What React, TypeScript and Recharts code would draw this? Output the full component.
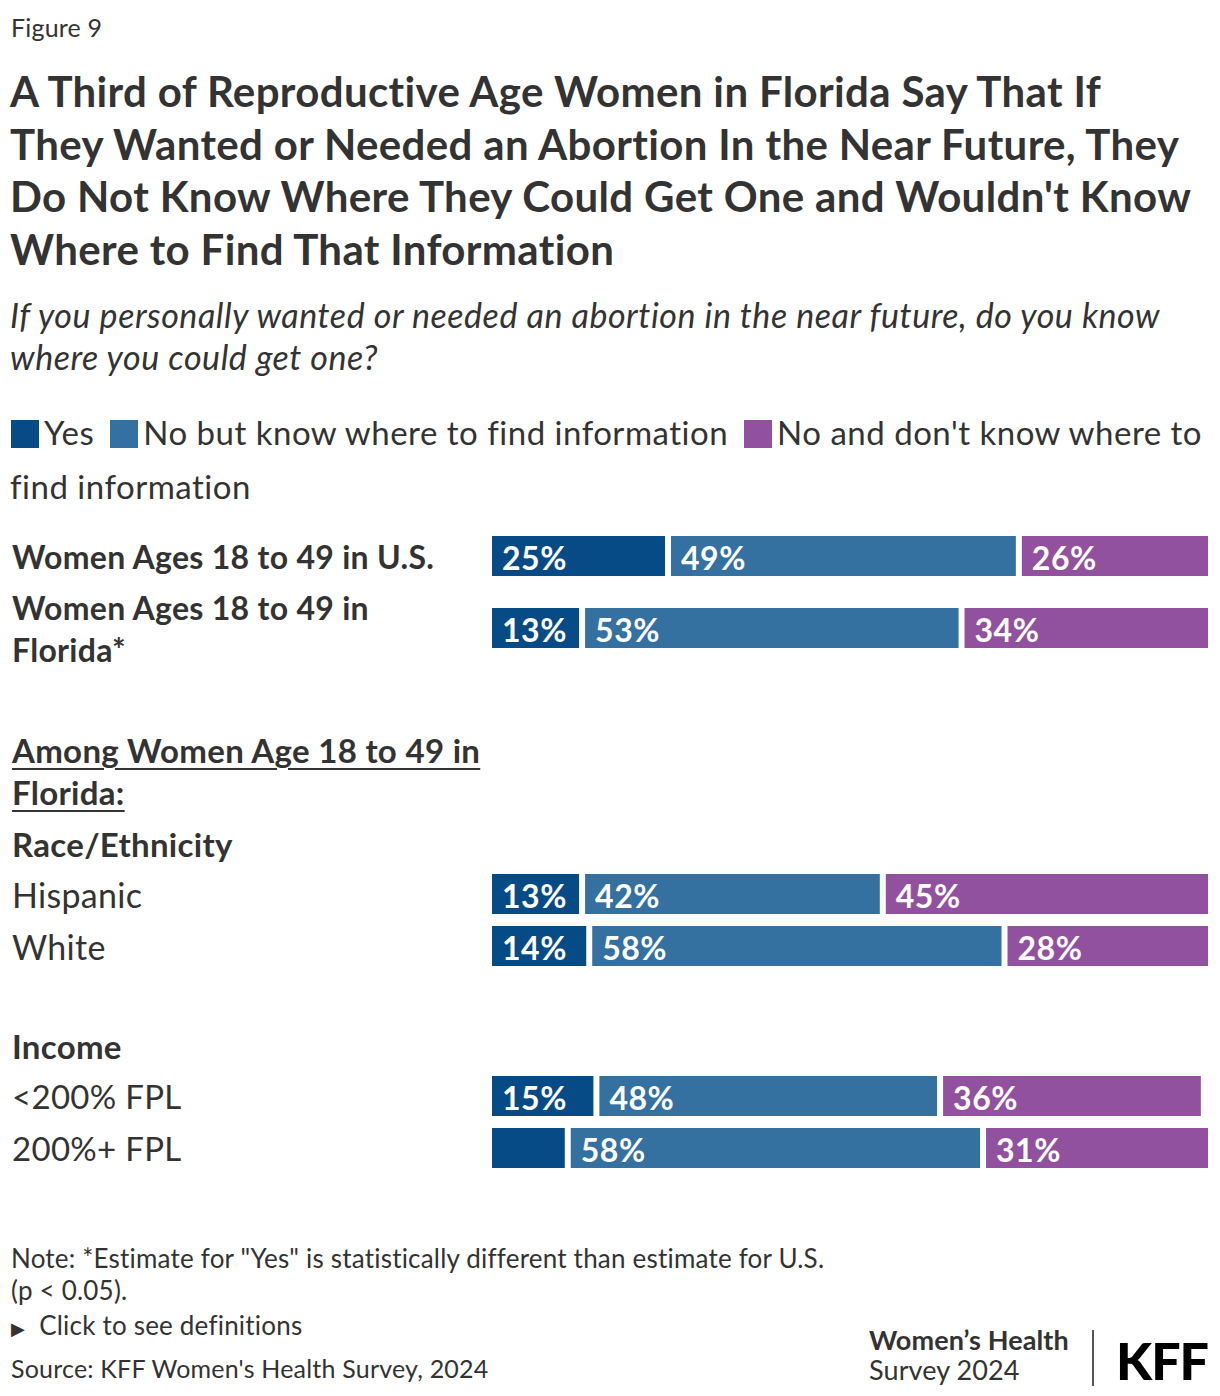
import { Bar, BarChart, LabelList, XAxis, YAxis } from "recharts";

const FONT = "Lato, 'Noto Sans', sans-serif";
const TEXT = "#333333";

const SERIES = ["Yes", "No but know where to find information", "No and don't know where to find information"];
const COLORS = ["#064a86", "#3470a0", "#92519f"];

// top group
const topCategories = ["Women Ages 18 to 49 in U.S.", "Women Ages 18 to 49 in Florida*"];
const topYes = [25, 13];
const topNoBut = [49, 53];
const topNoDont = [26, 34];

// race / ethnicity
const raceCategories = ["Hispanic", "White"];
const raceYes = [13, 14];
const raceNoBut = [42, 58];
const raceNoDont = [45, 28];

// income
const incomeCategories = ["<200% FPL", "200%+ FPL"];
const incomeYes = [15, 11];
const incomeNoBut = [48, 58];
const incomeNoDont = [36, 31];

const GAP = 6;

function build(cats: string[], a: number[], b: number[], c: number[]) {
	return cats.map((name, i) => ({ name, yes: a[i], noBut: b[i], noDont: c[i] }));
}

function wrap(label: string, max = 28): string[] {
	if (label.length <= max) return [label];
	const words = label.split(" ");
	const lines: string[] = [];
	let cur = "";
	for (const w of words) {
		if ((cur + " " + w).trim().length > max) {
			lines.push(cur);
			cur = w;
		} else cur = (cur + " " + w).trim();
	}
	if (cur) lines.push(cur);
	return lines;
}

const gapShape = (last: boolean) => (props: any) => {
	const { x, y, width, height, fill } = props;
	const w = last ? width : Math.max(0, width - GAP);
	return <rect x={x} y={y} width={w} height={height} fill={fill} />;
};

// labels are dropped when the segment is too narrow to hold them
const valueLabel = (props: any) => {
	const { x, y, width, height, value } = props;
	if (width < 85) return null;
	return (
		<text
			x={x + 10}
			y={y + height / 2 + 1}
			dominantBaseline="central"
			fill="#ffffff"
			fontFamily={FONT}
			fontWeight={700}
			fontSize={32}
			letterSpacing={0.5}
		>
			{value}%
		</text>
	);
};

function Group({
	data,
	height,
	weight,
	fontSize,
}: {
	data: { name: string; yes: number; noBut: number; noDont: number }[];
	height: number;
	weight: number;
	fontSize: number;
}) {
	const tick = (props: any) => {
		const { y, payload } = props;
		const lines = wrap(payload.value);
		const lh = 42;
		const start = y - ((lines.length - 1) * lh) / 2;
		return (
			<g>
				{lines.map((l, i) => (
					<text
						key={i}
						x={12}
						y={start + i * lh}
						dominantBaseline="central"
						fill={TEXT}
						fontFamily={FONT}
						fontWeight={weight}
						fontSize={fontSize}
						letterSpacing={0.3}
					>
						{l}
					</text>
				))}
			</g>
		);
	};
	return (
		<BarChart
			width={1208}
			height={height + 30}
			data={data}
			layout="vertical"
			margin={{ top: 0, right: 0, bottom: 30, left: 0 }}
			barSize={40}
		>
			<XAxis type="number" domain={[0, 100]} hide />
			<YAxis
				type="category"
				dataKey="name"
				width={492}
				axisLine={false}
				tickLine={false}
				tick={tick}
			/>
			<Bar dataKey="yes" stackId="s" fill={COLORS[0]} shape={gapShape(false)} isAnimationActive={false}>
				<LabelList dataKey="yes" content={valueLabel} />
			</Bar>
			<Bar dataKey="noBut" stackId="s" fill={COLORS[1]} shape={gapShape(false)} isAnimationActive={false}>
				<LabelList dataKey="noBut" content={valueLabel} />
			</Bar>
			<Bar dataKey="noDont" stackId="s" fill={COLORS[2]} shape={gapShape(true)} isAnimationActive={false}>
				<LabelList dataKey="noDont" content={valueLabel} />
			</Bar>
		</BarChart>
	);
}

const abs = (top: number, left = 0): React.CSSProperties => ({ position: "absolute", top, left });

export default function App() {
	return (
		<div
			style={{
				position: "absolute",
				top: 0,
				left: 0,
				width: 1220,
				height: 1396,
				background: "#fff",
				fontFamily: FONT,
				color: TEXT,
			}}
		>
			<div style={{ ...abs(12, 11), fontSize: 25, letterSpacing: 0.2 }}>Figure 9</div>
			<div
				style={{
					...abs(65, 10),
					fontSize: 42,
					fontWeight: 700,
					lineHeight: "52.5px",
					letterSpacing: 0.35,
					width: 1210,
					whiteSpace: "nowrap",
				}}
			>
				A Third of Reproductive Age Women in Florida Say That If
				<br />
				They Wanted or Needed an Abortion In the Near Future, They
				<br />
				Do Not Know Where They Could Get One and Wouldn't Know
				<br />
				Where to Find That Information
			</div>
			<div
				style={{
					...abs(294, 10),
					fontSize: 34,
					fontStyle: "italic",
					lineHeight: "42px",
					letterSpacing: 0.55,
					width: 1210,
					whiteSpace: "nowrap",
				}}
			>
				If you personally wanted or needed an abortion in the near future, do you know
				<br />
				where you could get one?
			</div>
			<div style={{ ...abs(405, 10), fontSize: 33, lineHeight: "54px", letterSpacing: 0.5, width: 1208 }}>
				{SERIES.map((s, i) => [
					<span
						key={s + "-sw"}
						style={{
							display: "inline-block",
							width: 28,
							height: 28,
							background: COLORS[i],
							verticalAlign: "-3px",
							marginLeft: i === 0 ? 1 : 16,
							marginRight: 5,
						}}
					/>,
					<span key={s}>{s}</span>,
				])}
			</div>

			<div style={abs(520)}>
				<Group data={build(topCategories, topYes, topNoBut, topNoDont)} height={144} weight={700} fontSize={32} />
			</div>

			<div
				style={{
					...abs(729, 12),
					fontSize: 33,
					fontWeight: 700,
					lineHeight: "42px",
					letterSpacing: 0.3,
					textDecoration: "underline",
					textDecorationThickness: 2,
					textUnderlineOffset: 5,
				}}
			>
				Among Women Age 18 to 49 in
				<br />
				Florida:
			</div>
			<div style={{ ...abs(823, 12), fontSize: 33, fontWeight: 700, lineHeight: "42px", letterSpacing: 0.3 }}>
				Race/Ethnicity
			</div>
			<div style={abs(868)}>
				<Group data={build(raceCategories, raceYes, raceNoBut, raceNoDont)} height={104} weight={400} fontSize={34} />
			</div>

			<div style={{ ...abs(1025, 12), fontSize: 33, fontWeight: 700, lineHeight: "42px", letterSpacing: 0.3 }}>
				Income
			</div>
			<div style={abs(1070)}>
				<Group data={build(incomeCategories, incomeYes, incomeNoBut, incomeNoDont)} height={104} weight={400} fontSize={33} />
			</div>

			<div style={{ ...abs(1242, 11), fontSize: 26, lineHeight: "32px", letterSpacing: 0.2, width: 1000 }}>
				Note: *Estimate for "Yes" is statistically different than estimate for U.S.
				<br />
				(p &lt; 0.05).
			</div>
			<div style={{ ...abs(1309, 11), fontSize: 26, lineHeight: "32px", letterSpacing: 0.2 }}>
				<span style={{ fontSize: 18, marginRight: 14 }}>▶</span>Click to see definitions
			</div>
			<div style={{ ...abs(1352, 11), fontSize: 25, lineHeight: "32px", letterSpacing: 0.2 }}>
				Source: KFF Women's Health Survey, 2024
			</div>

			<div style={{ ...abs(1325, 869), fontSize: 27, lineHeight: "30px", letterSpacing: 0.1 }}>
				<div style={{ fontWeight: 700 }}>Women’s Health</div>
				<div>Survey 2024</div>
			</div>
			<div style={{ ...abs(1330, 1092), width: 2, height: 56, background: "#555" }} />
			<div
				style={{
					...abs(1331, 1116),
					fontSize: 52,
					fontWeight: 900,
					color: "#000",
					lineHeight: "58px",
					letterSpacing: -1,
				}}
			>
				KFF
			</div>
		</div>
	);
}
